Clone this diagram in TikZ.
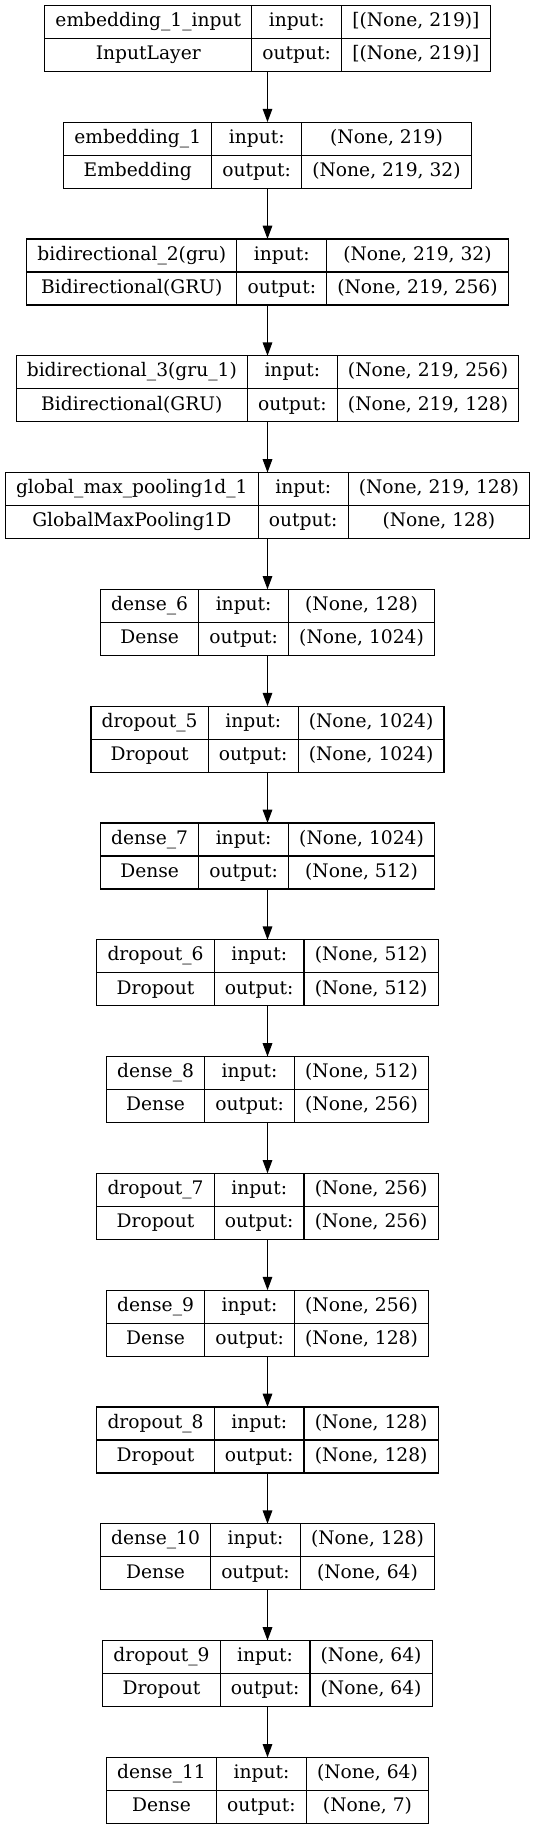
\documentclass[tikz,border=0pt]{standalone}
\usepackage{fontspec}
\usetikzlibrary{arrows.meta}
\newfontfamily\gvfont{DejaVu Serif}
\newcommand\gvsize{\fontsize{18.667bp}{22.4bp}\selectfont}
\newdimen\cwa \newdimen\tmpw
% column width: widest of two texts plus graphviz field padding
\newcommand\colw[4]{%
  \settowidth{\cwa}{\gvfont\gvsize #3}%
  \settowidth{\tmpw}{\gvfont\gvsize #4}%
  \ifdim\tmpw>\cwa \cwa=\tmpw\fi
  \advance\cwa by 21.333bp\relax
  \expandafter\xdef\csname gvw#1#2\endcsname{\the\cwa}}
% #1 rank, #2 layer name, #3 class, #4 input shape, #5 output shape
\newcommand\measure[5]{%
  \colw{#1}{a}{#2}{#3}\colw{#1}{b}{input:}{output:}\colw{#1}{c}{#4}{#5}%
  \cwa=\csname gvw#1a\endcsname
  \advance\cwa by \csname gvw#1b\endcsname
  \advance\cwa by \csname gvw#1c\endcsname
  \expandafter\xdef\csname gvw#1t\endcsname{\the\cwa}}
\tikzset{
  cell/.style={draw=black, line width=1.2bp, inner sep=0pt, outer sep=0pt,
    minimum height=33.067bp, font=\gvfont\gvsize, text height=14bp,
    text depth=4.67bp, anchor=north west},
  outerbox/.style={draw=none, inner sep=0pt, outer sep=0pt,
    minimum height=66.133bp, anchor=north},
  flow/.style={draw=black, line width=1.2bp,
    -{Triangle[length=13.33bp,width=9.6bp]}}
}
\newcommand\layer[5]{%
  \pgfmathsetmacro\ytop{5.333+(#1-1)*116.8}%
  \node[outerbox, minimum width=\csname gvw#1t\endcsname] (L#1) at (267.5bp,-\ytop bp) {};
  \node[cell, minimum width=\csname gvw#1a\endcsname] (L#1a) at (L#1.north west) {#2};
  \node[cell, minimum width=\csname gvw#1b\endcsname] (L#1b) at (L#1a.north east) {input:};
  \node[cell, minimum width=\csname gvw#1c\endcsname] (L#1c) at (L#1b.north east) {#4};
  \node[cell, minimum width=\csname gvw#1a\endcsname] (L#1d) at (L#1a.south west) {#3};
  \node[cell, minimum width=\csname gvw#1b\endcsname] (L#1e) at (L#1b.south west) {output:};
  \node[cell, minimum width=\csname gvw#1c\endcsname] (L#1f) at (L#1c.south west) {#5};
}
\newcommand\alllayers[1]{%
#1{1}{embedding\_1\_input}{InputLayer}{[(None, 219)]}{[(None, 219)]}%
#1{2}{embedding\_1}{Embedding}{(None, 219)}{(None, 219, 32)}%
#1{3}{bidirectional\_2(gru)}{Bidirectional(GRU)}{(None, 219, 32)}{(None, 219, 256)}%
#1{4}{bidirectional\_3(gru\_1)}{Bidirectional(GRU)}{(None, 219, 256)}{(None, 219, 128)}%
#1{5}{global\_max\_pooling1d\_1}{GlobalMaxPooling1D}{(None, 219, 128)}{(None, 128)}%
#1{6}{dense\_6}{Dense}{(None, 128)}{(None, 1024)}%
#1{7}{dropout\_5}{Dropout}{(None, 1024)}{(None, 1024)}%
#1{8}{dense\_7}{Dense}{(None, 1024)}{(None, 512)}%
#1{9}{dropout\_6}{Dropout}{(None, 512)}{(None, 512)}%
#1{10}{dense\_8}{Dense}{(None, 512)}{(None, 256)}%
#1{11}{dropout\_7}{Dropout}{(None, 256)}{(None, 256)}%
#1{12}{dense\_9}{Dense}{(None, 256)}{(None, 128)}%
#1{13}{dropout\_8}{Dropout}{(None, 128)}{(None, 128)}%
#1{14}{dense\_10}{Dense}{(None, 128)}{(None, 64)}%
#1{15}{dropout\_9}{Dropout}{(None, 64)}{(None, 64)}%
#1{16}{dense\_11}{Dense}{(None, 64)}{(None, 7)}%
}
\begin{document}
\alllayers\measure
\begin{tikzpicture}
\fill[white] (0,0) rectangle (535bp,-1829bp);
\useasboundingbox (0,0) rectangle (535bp,-1829bp);
\alllayers\layer
\foreach \i [evaluate=\i as \j using int(\i+1)] in {1,...,15}
  \draw[flow] (L\i.south) -- (L\j.north);
\end{tikzpicture}
\end{document}
